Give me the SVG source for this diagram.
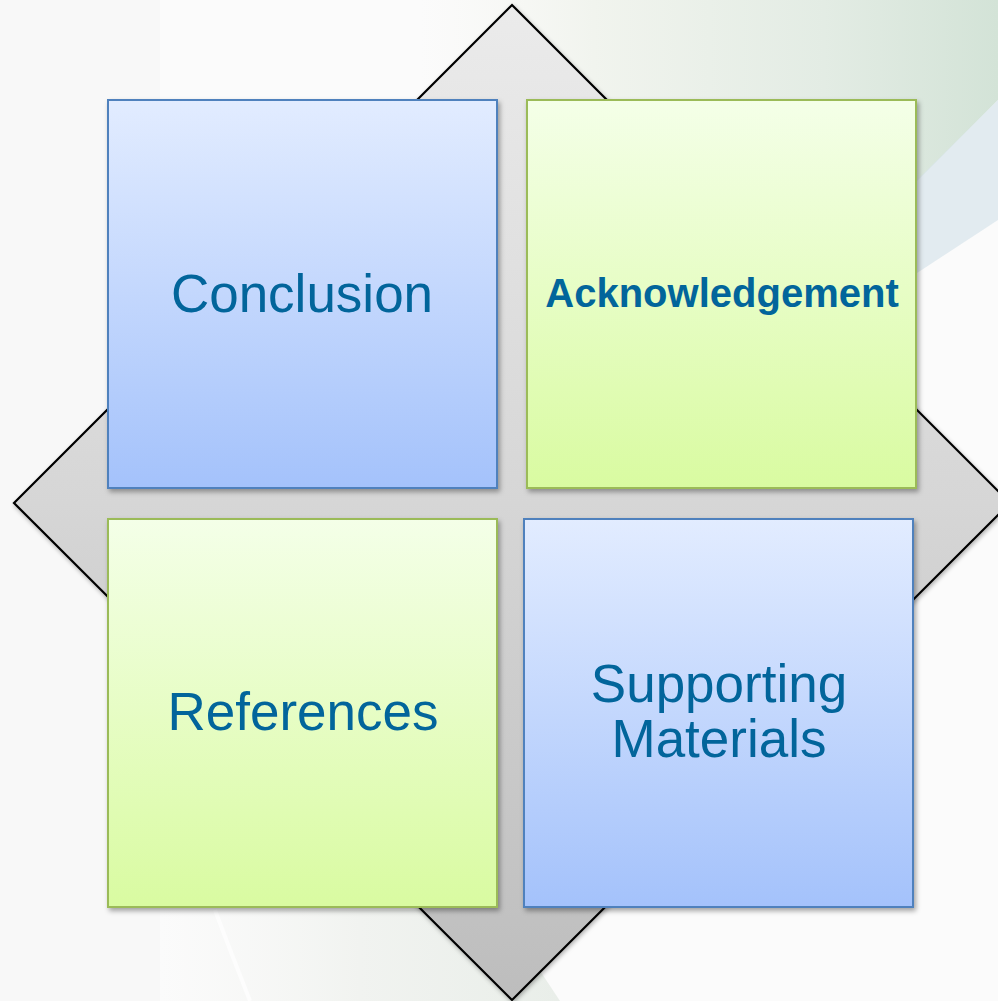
<svg xmlns="http://www.w3.org/2000/svg" width="998" height="1001" viewBox="0 0 998 1001">
<style>
.lbl{font-family:"Liberation Sans",Arial,sans-serif;font-size:53px;fill:#02659b;text-anchor:middle}
.bold{font-weight:bold;font-size:40px}
.blue{fill:url(#gBlue);stroke:#4f81bd;stroke-width:2;filter:url(#sh)}
.green{fill:url(#gGreen);stroke:#9bbb59;stroke-width:2;filter:url(#sh)}
</style>
<defs>
<linearGradient id="gBlue" x1="0" y1="0" x2="0" y2="1">
<stop offset="0" stop-color="#e2ecff"/><stop offset="1" stop-color="#a4c2fb"/>
</linearGradient>
<linearGradient id="gGreen" x1="0" y1="0" x2="0" y2="1">
<stop offset="0" stop-color="#f4ffe8"/><stop offset="1" stop-color="#d9fba1"/>
</linearGradient>
<linearGradient id="gDia" x1="0" y1="0" x2="0" y2="1">
<stop offset="0" stop-color="#ebebeb"/><stop offset="0.5" stop-color="#d6d6d6"/><stop offset="1" stop-color="#bdbdbd"/>
</linearGradient>
<linearGradient id="gTR" gradientUnits="userSpaceOnUse" x1="420" y1="0" x2="998" y2="0">
<stop offset="0" stop-color="#f6f6f2" stop-opacity="0"/><stop offset="0.3" stop-color="#f1f4ee"/><stop offset="0.7" stop-color="#e3ece4"/><stop offset="1" stop-color="#d3e3d7"/>
</linearGradient>
<linearGradient id="gBL" gradientUnits="userSpaceOnUse" x1="160" y1="0" x2="560" y2="0">
<stop offset="0" stop-color="#f4f5f3" stop-opacity="0"/><stop offset="0.5" stop-color="#f1f3f0"/><stop offset="1" stop-color="#e9eee9"/>
</linearGradient>
<filter id="sh" x="-5%" y="-5%" width="115%" height="115%">
<feDropShadow dx="2" dy="3" stdDeviation="2.5" flood-color="#000" flood-opacity="0.35"/>
</filter>
<filter id="shd" x="-5%" y="-5%" width="115%" height="115%">
<feDropShadow dx="1" dy="2" stdDeviation="2" flood-color="#000" flood-opacity="0.3"/>
</filter>
</defs>
<g id="background">
<rect x="0" y="0" width="998" height="1001" fill="#fbfbfb"/>
<rect x="0" y="0" width="160" height="1001" fill="#f8f8f8"/>
<polygon points="420,0 998,0 998,100 600,500 330,500" fill="url(#gTR)"/>
<polygon points="998,100 917,180 700,420 760,440 917,273 998,220" fill="#d9e6ec" opacity="0.75"/>
<polygon points="160,910 500,910 560,1001 160,1001" fill="url(#gBL)"/>
<path d="M215,910 C228,945 240,975 250,1001" stroke="#ffffff" stroke-width="4" fill="none" opacity="0.7"/>
</g>
<g id="diamond">
<polygon points="512,5 1010,503 512,1000 14,503" fill="url(#gDia)" stroke="#000" stroke-width="2.2" filter="url(#shd)"/>
</g>
<g id="connectors"></g>
<g id="conclusion">
<rect class="blue" x="108" y="100" width="389" height="388"/>
<text class="lbl" x="302" y="312">Conclusion</text>
</g>
<g id="acknowledgement">
<rect class="green" x="527" y="100" width="389" height="388"/>
<text class="lbl bold" x="722" y="307">Acknowledgement</text>
</g>
<g id="references">
<rect class="green" x="108" y="519" width="389" height="388"/>
<text class="lbl" x="303" y="730">References</text>
</g>
<g id="supporting-materials">
<rect class="blue" x="524" y="519" width="389" height="388"/>
<text class="lbl" x="719" y="702">Supporting</text>
<text class="lbl" x="719" y="757">Materials</text>
</g>
</svg>
